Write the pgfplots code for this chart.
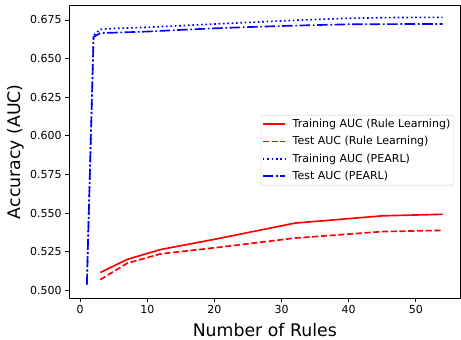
\documentclass[border=0pt]{standalone}
\usepackage{pgfplots}
\pgfplotsset{compat=1.18}
\usepackage{fontspec}
\setmainfont{DejaVu Sans}
\begin{document}
\begin{tikzpicture}
\begin{axis}[
  scale only axis,
  width=391pt, height=293pt,
  xmin=-1.65, xmax=56.65,
  ymin=0.4948, ymax=0.6847,
  axis line style={line width=0.88pt},
  tick style={line width=0.88pt, black},
  tick align=outside,
  major tick length=3.85pt,
  xtick={0,10,20,30,40,50},
  ytick={0.500,0.525,0.550,0.575,0.600,0.625,0.650,0.675},
  xtick pos=bottom, ytick pos=left,
  /pgf/number format/assume math mode=true,
  yticklabel style={/pgf/number format/.cd, fixed, fixed zerofill, precision=3},
  ticklabel style={font=\fontsize{11}{13}\selectfont},
  xlabel={Number of Rules},
  ylabel={Accuracy (AUC)},
  label style={font=\fontsize{17.3}{20}\selectfont},
  xlabel style={at={(axis description cs:0.5,0)}, anchor=base, yshift=-38pt},
  ylabel style={at={([xshift=-53pt]axis description cs:0,0.5)}, anchor=center},
  legend image code/.code={\draw[#1] (0pt,0pt) -- (22pt,0pt);},
  legend style={at={(axis description cs:1,0.5)}, anchor=east, xshift=-7pt, yshift=1.5pt,
    font=\fontsize{11}{13}\selectfont, draw=black!20, rounded corners=2pt,
    inner xsep=1pt, inner ysep=2pt, row sep=3.5pt, column sep=5pt},
  legend cell align=left,
]
\addplot[red, line width=1.65pt] coordinates {
 (3,0.5115) (7,0.5200) (12,0.5264) (20,0.5330) (32,0.5435) (45,0.5482) (54,0.5492)};
\addlegendentry{Training AUC (Rule Learning)}
\addplot[red, line width=1.65pt, dash pattern=on 6.1pt off 2.64pt] coordinates {
 (3,0.5069) (7,0.5175) (12,0.5236) (20,0.5275) (32,0.5338) (45,0.5380) (54,0.5388)};
\addlegendentry{Test AUC (Rule Learning)}
\addplot[blue, line width=1.65pt, dash pattern=on 1.65pt off 2.72pt] coordinates {
 (1,0.5040) (2,0.6650) (3,0.6690) (5,0.6695) (10,0.6703) (15,0.6713) (20,0.6724) (25,0.6734) (30,0.6744) (35,0.6753) (40,0.6761) (45,0.6765) (50,0.6767) (54,0.6767)};
\addlegendentry{Training AUC (PEARL)}
\addplot[blue, line width=1.65pt, dash pattern=on 10.56pt off 2.64pt on 1.65pt off 2.64pt] coordinates {
 (1,0.5035) (2,0.6640) (3,0.6665) (5,0.6668) (10,0.6675) (15,0.6686) (20,0.6696) (25,0.6704) (30,0.6711) (35,0.6717) (40,0.6722) (45,0.6723) (50,0.6724) (54,0.6724)};
\addlegendentry{Test AUC (PEARL)}
\end{axis}
\pgfresetboundingbox
\path[use as bounding box] ([shift={(-69pt,-41pt)}]current axis.south west) rectangle ([shift={(0.5pt,5pt)}]current axis.north east);
\end{tikzpicture}
\end{document}
